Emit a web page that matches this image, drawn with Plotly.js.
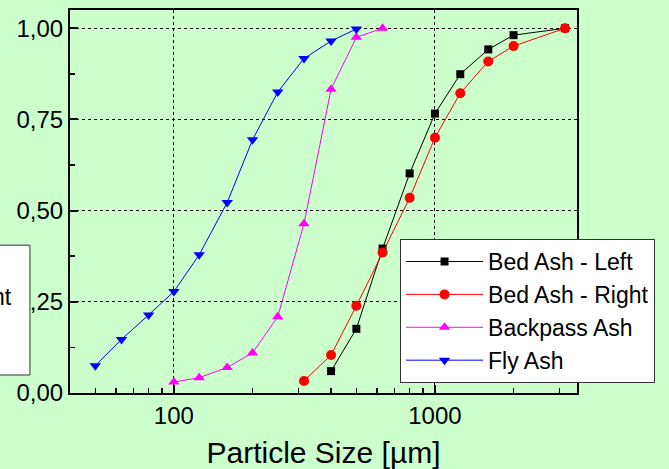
<!DOCTYPE html>
<html>
<head>
<meta charset="utf-8">
<script src="https://cdn.plot.ly/plotly-3.0.1.min.js"></script>
<style>
html,body{margin:0;padding:0;background:#CCFFCC;}
#chart{width:669px;height:469px;}
</style>
</head>
<body>
<div id="chart"></div>
<script>
// Sieve sizes [µm] and cumulative fractions
var sizesBedLeft = [400, 500, 630, 800, 1000, 1250, 1600, 2000, 3150];
var bedLeft      = [0.060, 0.176, 0.396, 0.602, 0.766, 0.874, 0.942, 0.981, 1.000];

var sizesBedRight = [315, 400, 500, 630, 800, 1000, 1250, 1600, 2000, 3150];
var bedRight      = [0.033, 0.104, 0.239, 0.385, 0.535, 0.700, 0.822, 0.909, 0.951, 1.000];

var sizesBackpass = [100, 125, 160, 200, 250, 315, 400, 500, 630];
var backpass      = [0.030, 0.042, 0.070, 0.110, 0.209, 0.464, 0.833, 0.975, 1.000];

var sizesFly = [50, 63, 80, 100, 125, 160, 200, 250, 315, 400, 500];
var fly      = [0.075, 0.147, 0.214, 0.278, 0.379, 0.522, 0.694, 0.825, 0.917, 0.965, 0.998];

var seriesNames = ['Bed Ash - Left', 'Bed Ash - Right', 'Backpass Ash', 'Fly Ash'];
var xTickVals = [100, 1000];
var xTickText = ['100', '1000'];
var yTickVals = [0, 0.25, 0.5, 0.75, 1.0];

var FONT = 'Liberation Sans, Arial, sans-serif';

var traces = [
  {x: sizesBedLeft, y: bedLeft, name: seriesNames[0], mode: 'lines+markers',
   line: {color: '#000000', width: 1}, marker: {symbol: 'square', size: 8, color: '#000000'}},
  {x: sizesBedRight, y: bedRight, name: seriesNames[1], mode: 'lines+markers',
   line: {color: '#FF0000', width: 1}, marker: {symbol: 'circle', size: 10, color: '#FF0000'}},
  {x: sizesBackpass, y: backpass, name: seriesNames[2], mode: 'lines+markers',
   line: {color: '#FF00FF', width: 1}, marker: {symbol: 'triangle-up', size: 10, color: '#FF00FF'}},
  {x: sizesFly, y: fly, name: seriesNames[3], mode: 'lines+markers',
   line: {color: '#0000FF', width: 1}, marker: {symbol: 'triangle-down', size: 10, color: '#0000FF'}}
];

var layout = {
  width: 669, height: 469,
  margin: {l: 70, r: 92, t: 10, b: 76, autoexpand: false},
  paper_bgcolor: '#CCFFCC',
  plot_bgcolor: '#CCFFCC',
  separators: ',.',
  font: {family: FONT, size: 23, color: '#000000'},
  showlegend: true,
  legend: {
    x: 0.651, y: 0.402, xanchor: 'left', yanchor: 'top',
    bgcolor: '#FFFFFF', bordercolor: '#333333', borderwidth: 1,
    font: {family: FONT, size: 23, color: '#000000'},
    itemwidth: 77
  },
  xaxis: {
    type: 'log',
    range: [Math.log10(40), Math.log10(3500)],
    tickvals: xTickVals, ticktext: xTickText,
    ticks: 'inside', ticklen: 8, tickwidth: 2, tickcolor: '#000',
    showline: true, linewidth: 2, linecolor: '#000', mirror: true,
    showgrid: true, gridcolor: '#000', griddash: 'dot', gridwidth: 1,
    zeroline: false,
    tickfont: {family: FONT, size: 24, color: '#000'},
    minor: {dtick: 'D1', ticks: 'inside', ticklen: 5, tickwidth: 1.5, tickcolor: '#000', showgrid: false},
    title: {text: 'Particle Size [µm]', font: {family: FONT, size: 30, color: '#000'}, standoff: 14}
  },
  yaxis: {
    range: [0, 1.05],
    tickvals: yTickVals, tickformat: '.2f',
    ticks: 'inside', ticklen: 8, tickwidth: 2, tickcolor: '#000',
    showline: true, linewidth: 2, linecolor: '#000', mirror: true,
    showgrid: true, gridcolor: '#000', griddash: 'dot', gridwidth: 1,
    zeroline: false,
    tickfont: {family: FONT, size: 24, color: '#000'},
    minor: {dtick: 0.125, ticks: 'inside', ticklen: 5, tickwidth: 1.5, tickcolor: '#000', showgrid: false}
  },
  shapes: [
    {type: 'rect', xref: 'paper', yref: 'paper',
     x0: -0.16, x1: -0.079, y0: 0.047, y1: 0.386,
     fillcolor: '#FFFFFF', line: {color: '#333333', width: 1}, layer: 'above'}
  ],
  annotations: [
    {xref: 'paper', yref: 'paper', x: -0.110, y: 0.25, xanchor: 'right', yanchor: 'middle',
     text: 'nt', showarrow: false, font: {family: FONT, size: 23, color: '#000'}}
  ]
};

Plotly.newPlot('chart', traces, layout, {displayModeBar: false, staticPlot: true});
</script>
</body>
</html>
